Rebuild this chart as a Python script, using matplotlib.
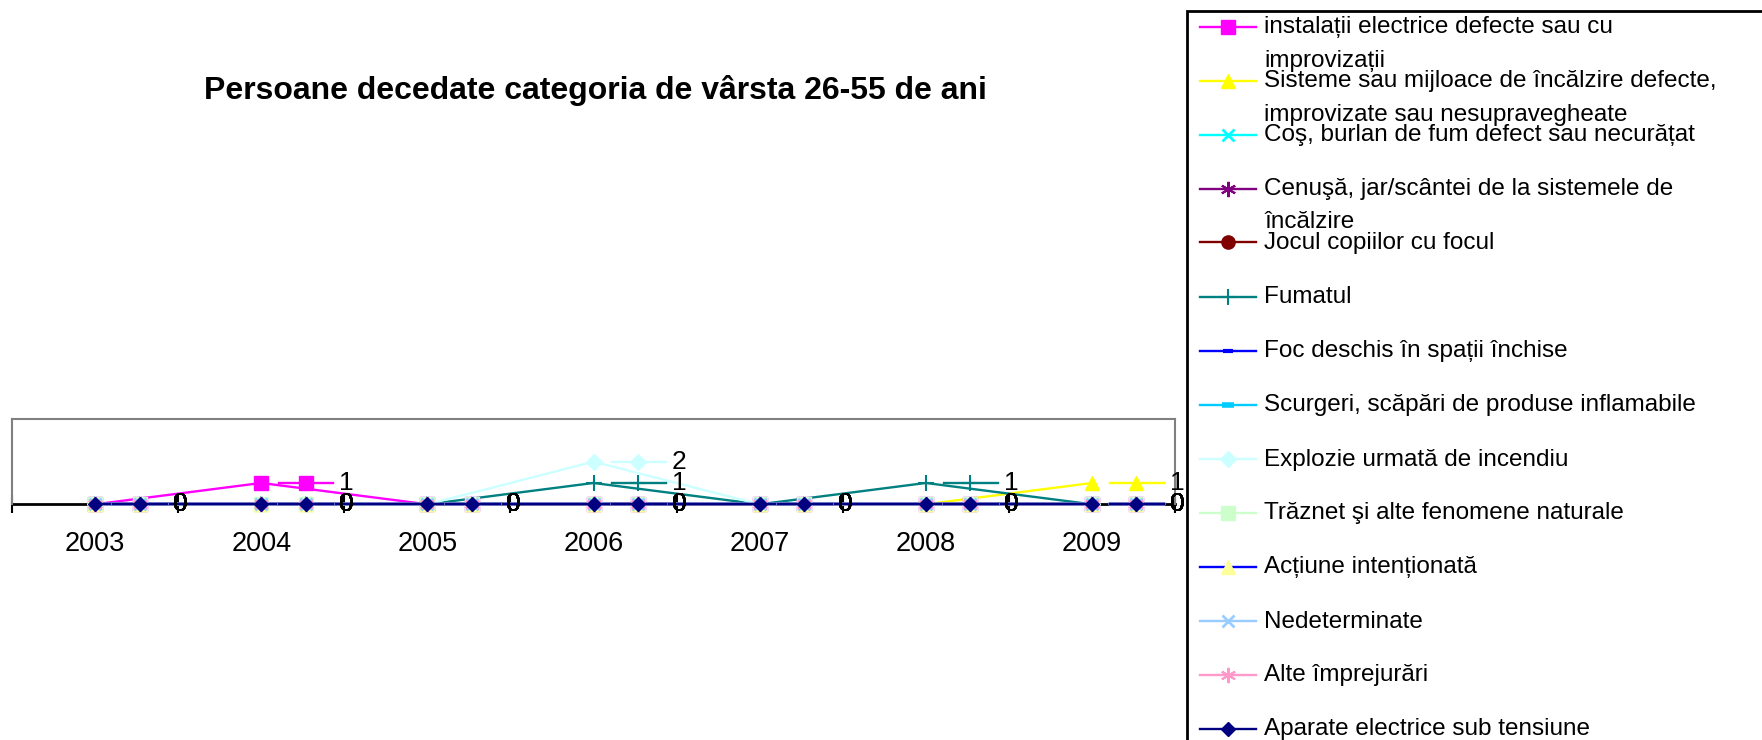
import matplotlib
matplotlib.use("Agg")
import matplotlib.pyplot as plt
from matplotlib.lines import Line2D
from matplotlib.patches import Rectangle

plt.rcParams["font.family"] = ["Liberation Sans", "DejaVu Sans"]

# date
ani = ["2003", "2004", "2005", "2006", "2007", "2008", "2009"]

v_instalatii = [0, 1, 0, 0, 0, 0, 0]
v_sisteme = [0, 0, 0, 0, 0, 0, 1]
v_cos = [0, 0, 0, 0, 0, 0, 0]
v_cenusa = [0, 0, 0, 0, 0, 0, 0]
v_jocul = [0, 0, 0, 0, 0, 0, 0]
v_fumatul = [0, 0, 0, 1, 0, 1, 0]
v_foc = [0, 0, 0, 0, 0, 0, 0]
v_scurgeri = [0, 0, 0, 0, 0, 0, 0]
v_explozie = [0, 0, 0, 2, 0, 0, 0]
v_traznet = [0, 0, 0, 0, 0, 0, 0]
v_actiune = [0, 0, 0, 0, 0, 0, 0]
v_nedeterminate = [0, 0, 0, 0, 0, 0, 0]
v_alte = [0, 0, 0, 0, 0, 0, 0]
v_aparate = [0, 0, 0, 0, 0, 0, 0]

etichete = [
    "instalații electrice defecte sau cu\nimprovizații",
    "Sisteme sau mijloace de încălzire defecte,\nimprovizate sau nesupravegheate",
    "Coş, burlan de fum defect sau necurățat",
    "Cenuşă, jar/scântei de la sistemele de\nîncălzire",
    "Jocul copiilor cu focul",
    "Fumatul",
    "Foc deschis în spații închise",
    "Scurgeri, scăpări de produse inflamabile",
    "Explozie urmată de incendiu",
    "Trăznet şi alte fenomene naturale",
    "Acțiune intenționată",
    "Nedeterminate",
    "Alte împrejurări",
    "Aparate electrice sub tensiune",
]
valori = [v_instalatii, v_sisteme, v_cos, v_cenusa, v_jocul, v_fumatul, v_foc,
          v_scurgeri, v_explozie, v_traznet, v_actiune, v_nedeterminate, v_alte, v_aparate]

# stiluri (culoare linie, marker, culoare marker, marime, grosime margine)
ast = (6, 2, 0)
stiluri = [
    ("#FF00FF", "s", "#FF00FF", 9.5, 1),
    ("#FFFF00", "^", "#FFFF00", 9.5, 1),
    ("#00FFFF", "x", "#00FFFF", 9, 2),
    ("#800080", ast, "#800080", 11, 1.5),
    ("#800000", "o", "#800000", 9.5, 1),
    ("#008080", "+", "#008080", 12, 1.5),
    ("#0000FF", "_", "#0000FF", 7, 3),
    ("#00CCFF", "_", "#00CCFF", 9, 4),
    ("#CCFFFF", "D", "#CCFFFF", 8, 1),
    ("#CCFFCC", "s", "#CCFFCC", 9.5, 1),
    ("#0000FF", "^", "#FFFF99", 9.5, 1),
    ("#99CCFF", "x", "#99CCFF", 9, 2),
    ("#FF99CC", ast, "#FF99CC", 11, 1.5),
    ("#000080", "D", "#000080", 7, 1),
]

W, H = 1762, 740
fig = plt.figure(figsize=(W / 100, H / 100), dpi=100)
ax = fig.add_axes([12 / W, 1 - 504.3 / H, 1163 / W, 85.3 / H])

x = list(range(len(ani)))
lw = 1.7

# liniile seriilor
for vals, (c, m, mc, ms, mew) in zip(valori, stiluri):
    ax.plot(x, vals, color=c, lw=lw, marker=m, ms=ms, mfc=mc, mec=mc, mew=mew,
            zorder=2, clip_on=False)

# etichete de date cu cheie de legenda
for vals, (c, m, mc, ms, mew) in zip(valori, stiluri):
    for xi, v in zip(x, vals):
        ax.plot([xi + 0.11, xi + 0.435], [v, v], color=c, lw=lw, zorder=4, clip_on=False)
        ax.plot([xi + 0.268], [v], ls="none", marker=m, ms=ms, mfc=mc, mec=mc, mew=mew,
                zorder=4, clip_on=False)
        ax.text(xi + 0.515, v, str(v), ha="center", va="center", fontsize=19,
                color="black", zorder=5, clip_on=False)

ax.set_xlim(-0.5, len(ani) - 0.5)
ax.set_ylim(0, 4)
ax.set_yticks([])

ax.set_xticks([i - 0.5 for i in range(len(ani) + 1)])
ax.set_xticklabels([])
ax.set_xticks(x, minor=True)
ax.set_xticklabels(ani, minor=True)
ax.tick_params(axis="x", which="major", direction="inout", length=13, width=1.5, color="black")
ax.tick_params(axis="x", which="minor", length=0, pad=19.5, labelsize=19.5)

for s in ["left", "top", "right"]:
    ax.spines[s].set_color("#808080")
    ax.spines[s].set_linewidth(1.5)
ax.spines["bottom"].set_color("black")
ax.spines["bottom"].set_linewidth(2)
ax.spines["bottom"].set_zorder(1)

# titlu
fig.text(595 / W, 1 - 91 / H, "Persoane decedate categoria de vârsta 26-55 de ani",
         ha="center", va="center", fontsize=23, fontweight="bold")

# legenda desenata manual
fig.patches.append(Rectangle((1187 / W, -0.1), 0.5, 1.1 - 11 / H, transform=fig.transFigure,
                             fill=False, edgecolor="black", lw=2))
for i, (lab, (c, m, mc, ms, mew)) in enumerate(zip(etichete, stiluri)):
    yk = 26.5 + 54.0 * i
    fig.add_artist(Line2D([1200 / W, 1256 / W], [1 - yk / H, 1 - yk / H], color=c, lw=lw,
                          transform=fig.transFigure))
    fig.add_artist(Line2D([1228 / W], [1 - yk / H], ls="none", marker=m, ms=ms, mfc=mc,
                          mec=mc, mew=mew, transform=fig.transFigure))
    for k, rand in enumerate(lab.split("\n")):
        fig.text(1264 / W, 1 - (yk + 1 + 33 * k) / H, rand, ha="left", va="center",
                 fontsize=17.5)

fig.savefig("out.png", dpi=100)
